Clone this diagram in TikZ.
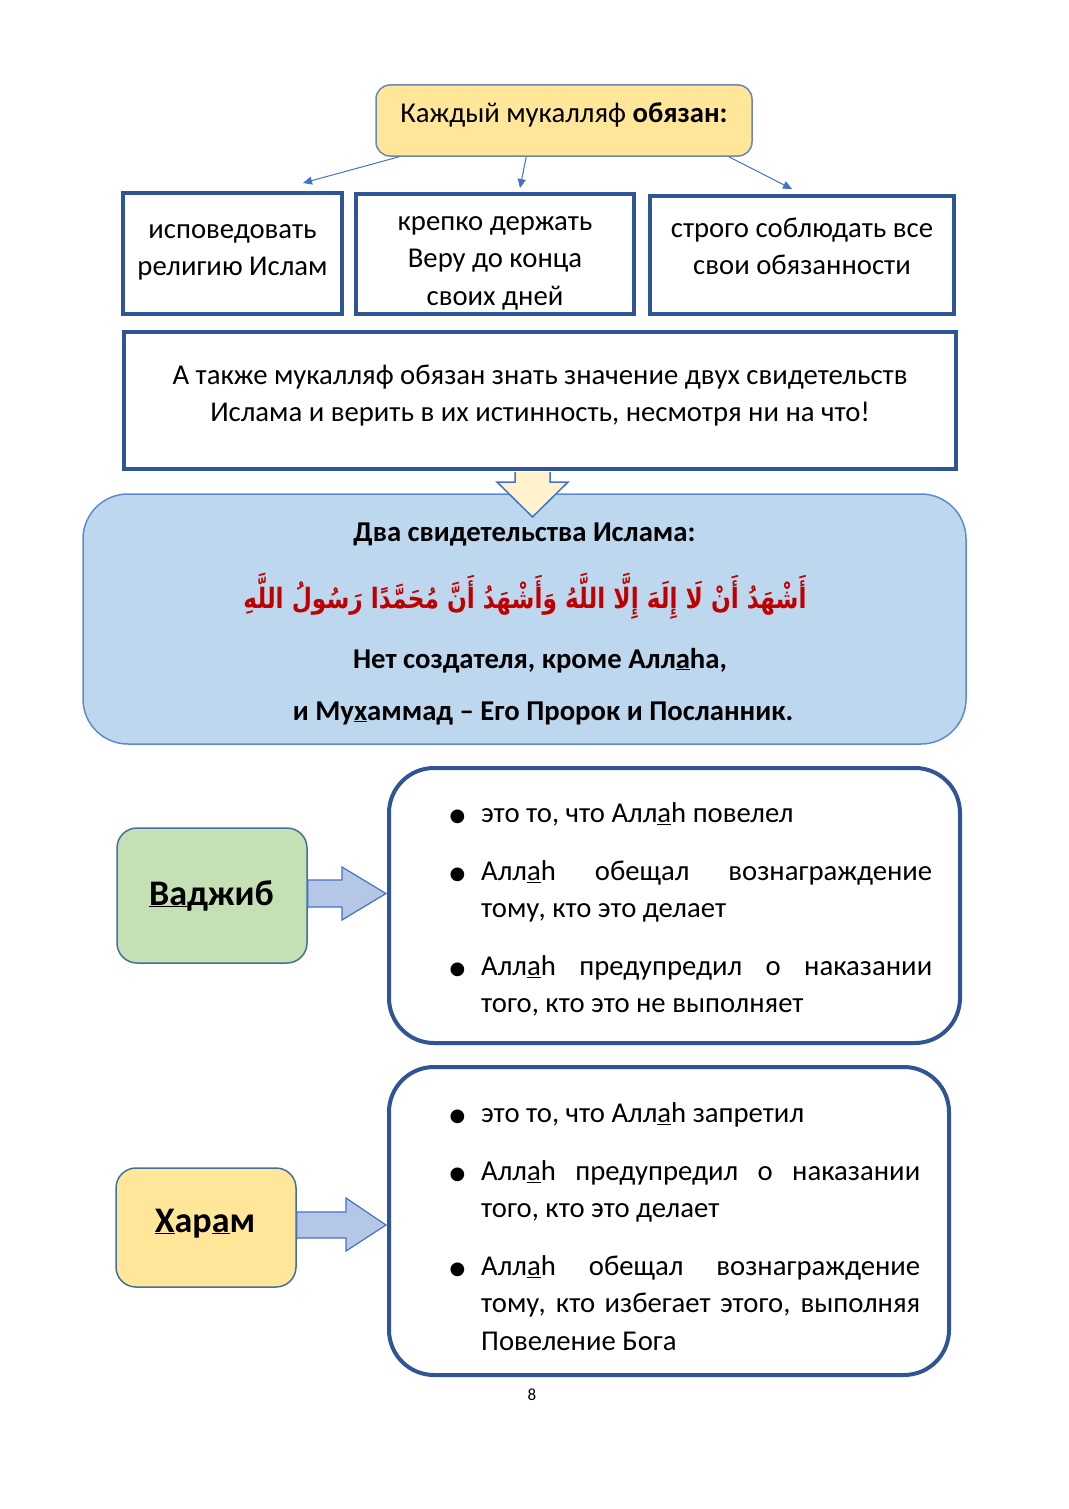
\documentclass[tikz,border=0pt]{standalone}
\usepackage{fontspec}
\usepackage{graphicx}
\setmainfont{Carlito}
\newfontfamily\arabicfont[Script=Arabic]{DejaVu Sans}
\newfontfamily\dejavu{DejaVu Sans}
\TeXXeTstate=1
\usetikzlibrary{arrows.meta,calc}
\setlength{\parindent}{0pt}
\definecolor{hdyellow}{HTML}{FFE699}
\definecolor{hdborder}{HTML}{6A86B8}
\definecolor{navy}{HTML}{2F5597}
\definecolor{connblue}{HTML}{4472C4}
\definecolor{panelfill}{HTML}{BDD7EE}
\definecolor{panelline}{HTML}{5B8BD0}
\definecolor{downfill}{HTML}{FFF2CC}
\definecolor{vjgreen}{HTML}{C5E0B4}
\definecolor{blkfill}{HTML}{B4C7E7}
\definecolor{arabred}{HTML}{C00000}
\definecolor{boxline}{HTML}{41719C}
\newcommand{\Allah}{Алл\underline{а}h}
\newcommand{\bul}{\llap{\raisebox{1pt}{\dejavu\fontsize{18}{18}\selectfont ●}\hspace{16pt}}}
\begin{document}
\begin{tikzpicture}[x=1pt,y=-1pt,
  fs/.style={font=\fontsize{28.7}{37.5}\selectfont},
  headbox/.style={draw=hdborder, line width=1.5pt, fill=hdyellow, rounded corners=14pt, inner sep=0},
  tbox/.style={draw=navy, line width=4pt, fill=white, inner sep=0},
  rbox/.style={draw=navy, line width=4pt, fill=white, rounded corners=45pt, inner sep=0},
  conn/.style={draw=connblue, line width=1pt, -{Triangle[length=9pt,width=8pt]}},
  ctext/.style={fs, align=center, anchor=north, inner sep=0},
  btext/.style={font=\bfseries\fontsize{28.7}{37.5}\selectfont, anchor=base, inner sep=0},
  item/.style={fs, anchor=north west, inner sep=0, text width=#1, align=justify},
  blk/.style={draw=connblue, line width=1.2pt, fill=blkfill, line join=miter},
  smallbox/.style={draw=boxline, line width=1.5pt, rounded corners=20pt, inner sep=0}
]
\useasboundingbox (0,0) rectangle (1068,1509);
\fill[white] (0,0) rectangle (1068,1509);

% top header
\node[headbox, minimum width=376pt, minimum height=71pt] (top) at (564,120.5) {};
\node[fs, anchor=base, inner sep=0] (toptext) at (564,123) {Каждый мукалляф \textbf{обязан:}};

% three boxes
\node[tbox, minimum width=219pt, minimum height=121pt] (b1) at (232.5,253.5) {};
\node[tbox, minimum width=278pt, minimum height=120pt] (b2) at (495,254) {};
\node[tbox, minimum width=304pt, minimum height=118pt] (b3) at (802,255) {};
\node[ctext] (t1) at (232.5,238-26.25) {\strut исповедовать\\религию Ислам};
\node[ctext] (t2) at (495,230-26.25) {\strut крепко держать\\Веру до конца\\своих дней};
\node[ctext] (t3) at (802,237-26.25) {\strut строго соблюдать все\\свои обязанности};

% connectors
\coordinate (e1) at (303,183);
\coordinate (e2) at (520,188);
\coordinate (e3) at (792,189);
\draw[conn] ($(top.south west)+(24,0)$) -- (e1);
\draw[conn] ($(top.south west)+(151,0)$) -- (e2);
\draw[conn] ($(top.south east)+(-24,0)$) -- (e3);

% big box
\node[tbox, minimum width=832pt, minimum height=137pt] (big) at (540,400.5) {};
\node[ctext] (bigtext) at (540,384-26.25) {\strut А также мукалляф обязан знать значение двух свидетельств\\Ислама и верить в их истинность, несмотря ни на что!};

% panel
\node[draw=panelline, line width=1.5pt, fill=panelfill, rounded corners=45pt, minimum width=883pt, minimum height=250pt, inner sep=0] (panel) at (524.5,619) {};
\filldraw[draw=connblue, line width=1.5pt, fill=downfill, line join=miter]
  (515,472) -- (515,482) -- (497,482) -- (532.5,517) -- (568,482) -- (550,482) -- (550,472);
\node[btext] (ptitle) at (524.5,541) {Два свидетельства Ислама:};
\node[anchor=base, inner sep=0, text=arabred, font=\arabicfont\bfseries\fontsize{28}{28}\selectfont] (arab) at (525,608)
  {\scalebox{0.83}[1]{\beginR أَشْهَدُ أَنْ لَا إِلَهَ إِلَّا اللَّهُ وَأَشْهَدُ أَنَّ مُحَمَّدًا رَسُولُ اللَّهِ\endR}};
\node[btext] (p1) at (540,668) {Нет создателя, кроме Алл\underline{а}hа,};
\node[btext] (p2) at (543,720) {и Му\underline{х}аммад – Его Пророк и Посланник.};

% Vajib
\node[smallbox, fill=vjgreen, minimum width=190pt, minimum height=135pt] (vaj) at (212,895.5) {};
\node[anchor=base, inner sep=0, font=\bfseries\fontsize{36}{36}\selectfont] (vajtext) at (211.5,905) {\underline{Ва}джиб};
\node[rbox, minimum width=571pt, minimum height=275pt] (r1) at (674.5,905.5) {};
\draw[blk] (vaj.east |- 0,880) -- (342,880) -- (342,867) -- (386,893.5) -- (342,920) -- (342,907) -- (vaj.east |- 0,907) -- cycle;
\node[item=451pt] (i11) at (481,822-26.25) {\strut\bul это то, что \Allah{} повелел};
\node[item=451pt] (i12) at (481,880-26.25) {\strut\bul \Allah{} обещал вознаграждение\linebreak тому, кто это делает};
\node[item=451pt] (i13) at (481,975-26.25) {\strut\bul \Allah{} предупредил о наказании\linebreak того, кто это не выполняет};

% Haram
\node[smallbox, fill=hdyellow, minimum width=180pt, minimum height=119pt] (har) at (206,1227.5) {};
\node[anchor=base, inner sep=0, font=\bfseries\fontsize{36}{36}\selectfont] (hartext) at (205,1232) {\underline{Х}ар\underline{а}м};
\node[rbox, minimum width=560pt, minimum height=308pt] (r2) at (669,1221) {};
\draw[blk] (har.east |- 0,1212) -- (346,1212) -- (346,1198) -- (386,1225) -- (346,1251) -- (346,1238) -- (har.east |- 0,1238) -- cycle;
\node[item=439pt] (i21) at (481,1122-26.25) {\strut\bul это то, что \Allah{} запретил};
\node[item=439pt] (i22) at (481,1180-26.25) {\strut\bul \Allah{} предупредил о наказании\linebreak того, кто это делает};
\node[item=439pt] (i23) at (481,1275-26.25) {\strut\bul \Allah{} обещал вознаграждение\linebreak тому, кто избегает этого, выполняя\linebreak Повеление Бога};

% page number
\node[anchor=base, inner sep=0, font=\fontsize{17}{17}\selectfont] (pg) at (532,1400) {8};
\end{tikzpicture}
\end{document}
